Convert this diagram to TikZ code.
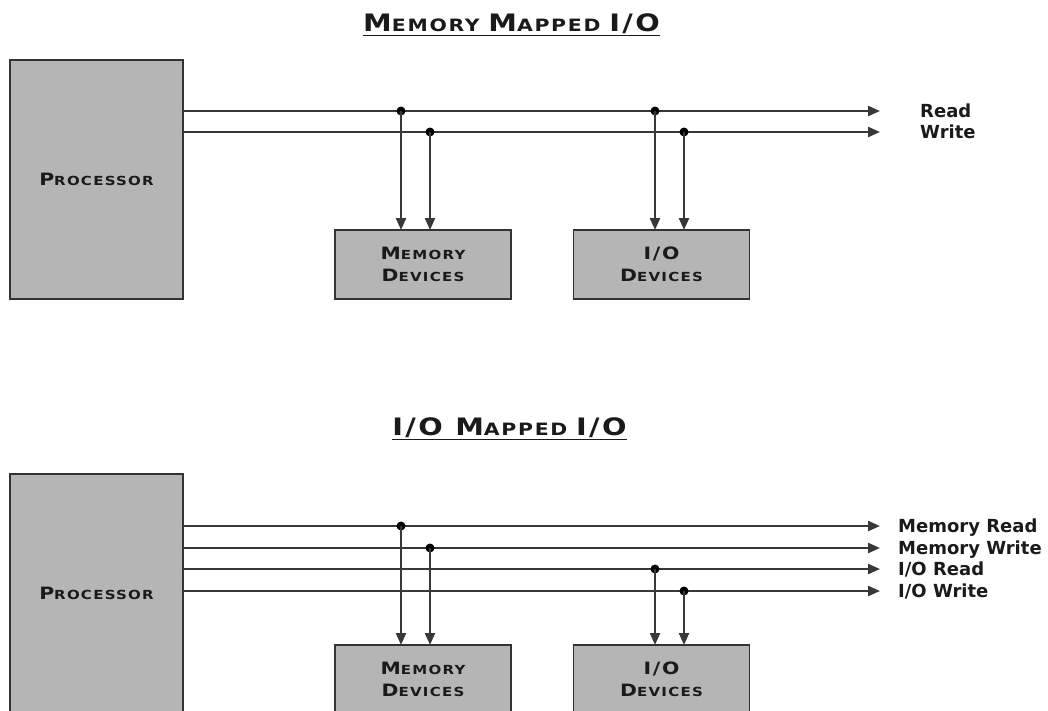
\documentclass[tikz,border=0pt]{standalone}
\usepackage{fontspec}
\usetikzlibrary{arrows.meta}
\newfontfamily\lblfont{DejaVu Sans}
\newfontfamily\scfont{DejaVu Sans}[FakeStretch=1.2,LetterSpace=10]
\definecolor{boxgray}{HTML}{B5B5B5}
\definecolor{edge}{HTML}{333333}
\definecolor{linegray}{HTML}{383838}
\definecolor{txt}{HTML}{1A1A1A}
\newcommand\bigc{\fontsize{17}{22}\selectfont}
\newcommand\smlc{\fontsize{12.5}{22}\selectfont}
\newcommand\tbig{\fontsize{24}{26}\selectfont}
\newcommand\tsml{\fontsize{17}{26}\selectfont}
\begin{document}
\begin{tikzpicture}[x=1pt,y=-1pt,
  box/.style={draw=edge, line width=1.6pt, fill=boxgray, inner sep=0pt, outer sep=0pt,
    text=txt, align=center, font=\scfont\bfseries\fontsize{17}{22}\selectfont},
  procbox/.style={box, minimum width=173pt, minimum height=239pt},
  devbox/.style={box, minimum width=176pt, minimum height=69pt},
  bus/.style={draw=linegray, line width=2.2pt, -{Triangle[length=12pt,width=10pt]}},
  tap/.style={draw=linegray, line width=2.2pt, -{Triangle[length=12pt,width=10pt]}},
  jdot/.style={circle, fill=black, inner sep=0pt, minimum size=9pt},
  lbl/.style={anchor=base west, inner sep=0pt, text=txt, font=\lblfont\bfseries\fontsize{18}{20}\selectfont},
  ttl/.style={anchor=base, inner sep=0pt, text=txt, font=\scfont\bfseries}
]
\useasboundingbox (0,0) rectangle (1048,710);
\clip (0,0) rectangle (1048,710);

% ---------- Memory mapped I/O ----------
\node[ttl] (t1) at (511.5,31) {\tbig M\tsml EMORY \tbig M\tsml APPED \tbig I/O};
\draw[txt, line width=1.6pt] ([yshift=-4.5pt]t1.base west) -- ([yshift=-4.5pt]t1.base east);

\node[procbox] (p1) at (96.5,179.5) {\bigc P\smlc ROCESSOR};
\node[devbox] (m1) at (423,264.5) {\bigc M\smlc EMORY\\\bigc D\smlc EVICES};
\node[devbox] (io1) at (661.5,264.5) {\bigc I/O\\\bigc D\smlc EVICES};

\coordinate (e1) at (880,111);
\coordinate (e2) at (880,132);
\draw[bus] (p1.east |- e1) -- (e1);
\draw[bus] (p1.east |- e2) -- (e2);

\node[jdot] (a1) at (401,111) {};
\node[jdot] (a2) at (430,132) {};
\node[jdot] (a3) at (655,111) {};
\node[jdot] (a4) at (684,132) {};
\draw[tap] (a1.center) -- (a1.center |- m1.north);
\draw[tap] (a2.center) -- (a2.center |- m1.north);
\draw[tap] (a3.center) -- (a3.center |- io1.north);
\draw[tap] (a4.center) -- (a4.center |- io1.north);

\node[lbl] (l1) at (920,117) {Read};
\node[lbl] (l2) at (920,138) {Write};

% ---------- I/O mapped I/O ----------
\node[ttl] (t2) at (509.5,435) {\tbig I/O M\tsml APPED \tbig I/O};
\draw[txt, line width=1.6pt] ([yshift=-4.5pt]t2.base west) -- ([yshift=-4.5pt]t2.base east);

\node[procbox] (p2) at (96.5,593.5) {\bigc P\smlc ROCESSOR};
\node[devbox] (m2) at (423,679.5) {\bigc M\smlc EMORY\\\bigc D\smlc EVICES};
\node[devbox] (io2) at (661.5,679.5) {\bigc I/O\\\bigc D\smlc EVICES};

\coordinate (f1) at (880,526);
\coordinate (f2) at (880,548);
\coordinate (f3) at (880,569);
\coordinate (f4) at (880,591);
\draw[bus] (p2.east |- f1) -- (f1);
\draw[bus] (p2.east |- f2) -- (f2);
\draw[bus] (p2.east |- f3) -- (f3);
\draw[bus] (p2.east |- f4) -- (f4);

\node[jdot] (b1) at (401,526) {};
\node[jdot] (b2) at (430,548) {};
\node[jdot] (b3) at (655,569) {};
\node[jdot] (b4) at (684,591) {};
\draw[tap] (b1.center) -- (b1.center |- m2.north);
\draw[tap] (b2.center) -- (b2.center |- m2.north);
\draw[tap] (b3.center) -- (b3.center |- io2.north);
\draw[tap] (b4.center) -- (b4.center |- io2.north);

\node[lbl] (k1) at (898,532) {Memory Read};
\node[lbl] (k2) at (898,554) {Memory Write};
\node[lbl] (k3) at (898,575) {I/O Read};
\node[lbl] (k4) at (898,597) {I/O Write};
\end{tikzpicture}
\end{document}
